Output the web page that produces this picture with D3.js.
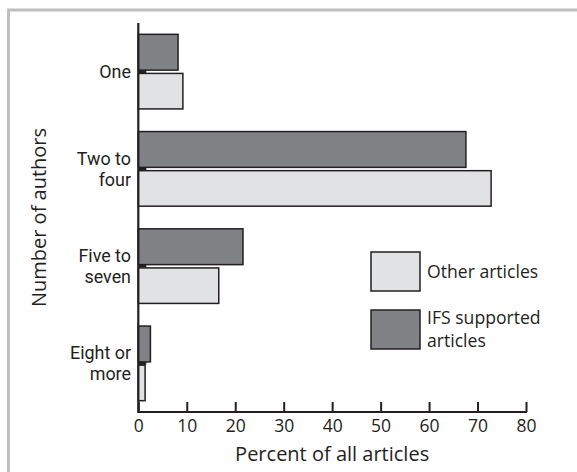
<!DOCTYPE html>
<html><head><meta charset="utf-8">
<script src="https://cdn.jsdelivr.net/npm/d3@7"></script>
<style>body{margin:0;background:#fff}svg{display:block}text{fill:#231f20}</style>
</head><body><svg id="c" width="577" height="472" font-family="Open Sans, sans-serif"></svg>
<script>
const categories = [["One"], ["Two to", "four"], ["Five to", "seven"], ["Eight or", "more"]];
const ifsValues = [8.2, 67.6, 21.6, 2.5];
const otherValues = [9.2, 72.8, 16.6, 1.4];
const xTicks = [0, 10, 20, 30, 40, 50, 60, 70, 80];
const seriesNames = ["Other articles", ["IFS supported", "articles"]];

const svg = d3.select("#c");
svg.append("rect").attr("x", 8.5).attr("y", 10).attr("width", 700).attr("height", 600)
  .attr("fill", "none").attr("stroke", "#bfbfc1").attr("stroke-width", 3);

const x = d3.scaleLinear().domain([0, 80]).range([138.3, 526]);
const y = d3.scaleBand().domain(d3.range(categories.length)).range([23, 412]);
const darkFill = "#808285", lightFill = "#e1e2e3", edge = "#231f20";

const g = svg.append("g");
categories.forEach((c, i) => {
  const cy = y(i) + y.bandwidth() / 2;
  g.append("line").attr("x1", x(0)).attr("x2", x(0) + 8).attr("y1", cy).attr("y2", cy)
    .attr("stroke", edge).attr("stroke-width", 3);
  g.append("rect").attr("x", x(0)).attr("y", cy - 37.3).attr("width", x(ifsValues[i]) - x(0)).attr("height", 35.8)
    .attr("fill", darkFill).attr("stroke", edge).attr("stroke-width", 1.5);
  g.append("rect").attr("x", x(0)).attr("y", cy + 1.8).attr("width", x(otherValues[i]) - x(0)).attr("height", 35.5)
    .attr("fill", lightFill).attr("stroke", edge).attr("stroke-width", 1.5);
  const n = c.length;
  c.forEach((line, k) => {
    g.append("text").attr("text-anchor", "end").style("font-size", "17.9px").style("font-family", "Roboto")
      .attr("x", 131).attr("y", cy + (k - (n - 1) / 2) * 21.2).attr("dy", "0.35em").text(line);
  });
});

// axes
svg.append("line").attr("x1", x(0)).attr("x2", x(0)).attr("y1", 23).attr("y2", 413)
  .attr("stroke", edge).attr("stroke-width", 2.2);
const xAxis = d3.axisBottom(x).tickValues(xTicks).tickSizeInner(-10).tickSizeOuter(0).tickPadding(8);
const ax = svg.append("g").attr("transform", "translate(0,412)").call(xAxis);
ax.select(".domain").attr("stroke", edge).attr("stroke-width", 2.2).attr("d", `M${x(0)},0H${x(80)+1}`);
ax.selectAll(".tick line").attr("stroke", edge).attr("stroke-width", 2);
ax.selectAll(".tick text").attr("font-size", 17.5).attr("font-family", "Open Sans").attr("fill", "#231f20");

svg.append("text").attr("x", (x(0) + x(80)) / 2).attr("y", 454).attr("dy", "0.35em")
  .attr("text-anchor", "middle").attr("font-size", 20).text("Percent of all articles");
svg.append("text").attr("transform", `translate(39,${(23 + 412) / 2}) rotate(-90)`).attr("dy", "0.35em")
  .attr("text-anchor", "middle").attr("font-size", 20).text("Number of authors");

// legend
const lg = svg.append("g");
[[lightFill, seriesNames[0], 252], [darkFill, seriesNames[1], 310]].forEach(([f, name, ly]) => {
  lg.append("rect").attr("x", 371).attr("y", ly).attr("width", 49).attr("height", 39)
    .attr("fill", f).attr("stroke", edge).attr("stroke-width", 1.5);
  const lines = Array.isArray(name) ? name : [name];
  lines.forEach((ln, k) => {
    lg.append("text").attr("font-size", 17.6)
      .attr("x", 427).attr("y", ly + 19.5 + (k - (lines.length - 1) / 2) * 22.5).attr("dy", "0.35em").text(ln);
  });
});
</script></body></html>
